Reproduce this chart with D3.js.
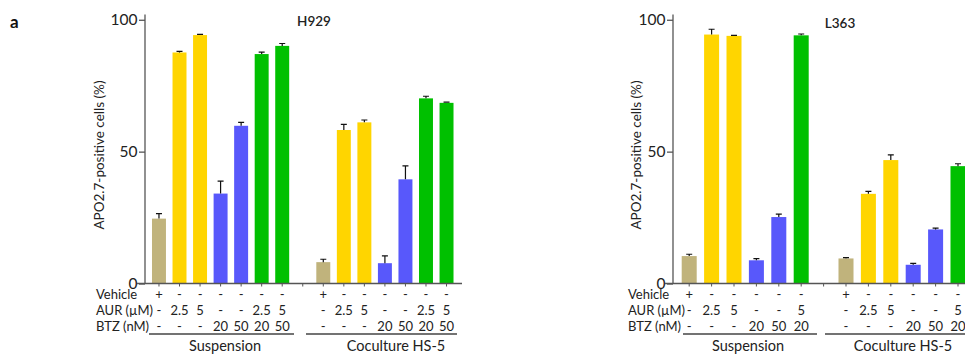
<!DOCTYPE html>
<html><head><meta charset="utf-8">
<script src="https://cdn.jsdelivr.net/npm/d3@7"></script>
<style>
html,body{margin:0;padding:0;background:#fff;}
svg{display:block;font-family:Lato,"Open Sans",sans-serif;}
</style></head>
<body><svg id="c" width="965" height="354"></svg>
<script>
// ---------- data ----------
const rowNames = ["Vehicle", "AUR (\u00b5M)", "BTZ (nM)"];
const groupNames = ["Suspension", "Coculture HS-5"];
const yTicks = [0, 50, 100];

// H929 panel
const h929Vehicle = ["+", "-", "-", "-", "-", "-", "-"];
const h929AUR     = ["-", "2.5", "5", "-", "-", "2.5", "5"];
const h929BTZ     = ["-", "-", "-", "20", "50", "20", "50"];
const h929Treat   = ["veh", "aur", "aur", "btz", "btz", "combo", "combo"];
const h929Susp    = [24.6, 87.6, 94.2, 34.1, 59.8, 87.0, 90.1];
const h929SuspErr = [1.9, 0.4, 0.3, 4.7, 1.3, 0.7, 0.9];
const h929Cocu    = [8.1, 58.2, 61.1, 7.7, 39.5, 70.2, 68.5];
const h929CocuErr = [1.1, 2.1, 0.9, 2.8, 5.1, 0.8, 0.3];

// L363 panel
const l363Vehicle = ["+", "-", "-", "-", "-", "-"];
const l363AUR     = ["-", "2.5", "5", "-", "-", "5"];
const l363BTZ     = ["-", "-", "-", "20", "50", "20"];
const l363Treat   = ["veh", "aur", "aur", "btz", "btz", "combo"];
const l363Susp    = [10.4, 94.4, 93.9, 8.8, 25.2, 94.1];
const l363SuspErr = [0.7, 2.0, 0.2, 0.6, 1.1, 0.5];
const l363Cocu    = [9.5, 34.0, 46.8, 7.1, 20.5, 44.5];
const l363CocuErr = [0.3, 0.9, 2.0, 0.5, 0.5, 0.9];

const treatColor = {veh: "#c0b37c", aur: "#ffd500", btz: "#5858fb", combo: "#00c000"};

const svg = d3.select("#c");
const axisColor = "#555";

svg.append("text").attr("x", 10).attr("y", 28).attr("font-size", 17)
  .attr("font-weight", "bold").attr("fill", "#111").text("a");

function panel(o) {
  const g = svg.append("g");
  const n = o.vehicle.length;
  const slots = d3.range(2 * n + 1);
  const x = d3.scaleBand().domain(slots).range([o.x0, o.x1]).paddingInner(o.pad).paddingOuter(o.pad / 2);
  const y = d3.scaleLinear().domain([0, 102]).range([283.5, 14.5]);

  const bars = [];
  for (let i = 0; i < n; i++) {
    bars.push({slot: i, v: o.susp[i], e: o.suspErr[i], t: o.treat[i], k: i});
    bars.push({slot: n + 1 + i, v: o.cocu[i], e: o.cocuErr[i], t: o.treat[i], k: i});
  }

  // bars
  g.selectAll("rect.bar").data(bars).join("rect")
    .attr("x", d => x(d.slot)).attr("width", x.bandwidth())
    .attr("y", d => y(d.v)).attr("height", d => y(0) - y(d.v))
    .attr("fill", d => treatColor[d.t]);

  // error bars
  const cap = 3;
  g.selectAll("path.err").data(bars).join("path")
    .attr("d", d => {
      const cx = x(d.slot) + x.bandwidth() / 2;
      return `M${cx},${y(d.v)}V${y(d.v + d.e)}M${cx - cap},${y(d.v + d.e)}H${cx + cap}`;
    })
    .attr("stroke", "#111").attr("stroke-width", 1.2).attr("fill", "none");

  // y axis
  const ya = g.append("g").attr("transform", `translate(${o.ax},0)`)
    .call(d3.axisLeft(y).tickValues(yTicks).tickSize(6).tickPadding(1.5));
  ya.select(".domain").attr("d", `M-0,${y(102)}V${y(0)}`);
  ya.selectAll("path,line").attr("stroke", axisColor).attr("stroke-width", 1.3);
  ya.selectAll("text").attr("font-size", 15.5).attr("fill", "#222").attr("font-family", "Lato");

  // x axis
  g.append("line").attr("x1", o.ax - 8).attr("x2", o.xEnd)
    .attr("y1", y(0)).attr("y2", y(0)).attr("stroke", axisColor).attr("stroke-width", 1.4);
  g.selectAll("line.xt").data(slots).join("line")
    .attr("x1", d => x(d) + x.bandwidth() / 2).attr("x2", d => x(d) + x.bandwidth() / 2)
    .attr("y1", y(0)).attr("y2", y(0) + 3).attr("stroke", axisColor).attr("stroke-width", 1);

  // y title
  g.append("text").attr("transform", `translate(${o.ytx},155) rotate(-90)`)
    .attr("text-anchor", "middle").attr("dominant-baseline", "middle")
    .attr("font-size", 13.5).attr("fill", "#222").text("APO2.7-positive cells (%)");

  // panel title
  g.append("text").attr("x", o.titleX).attr("y", o.titleY).attr("text-anchor", "middle")
    .attr("font-size", 13.5).attr("font-weight", 600).attr("fill", "#222").text(o.title);

  // condition rows
  const rows = [o.vehicle, o.aur, o.btz];
  const rowY = [298.5, 314.5, 330.5];
  rows.forEach((arr, r) => {
    g.append("text").attr("x", o.rowX).attr("y", rowY[r]).attr("font-size", 13)
      .attr("fill", "#222").text(rowNames[r]);
    const cells = [];
    arr.forEach((s, i) => { cells.push({slot: i, s}); cells.push({slot: n + 1 + i, s}); });
    g.selectAll(null).data(cells).join("text")
      .attr("x", d => x(d.slot) + x.bandwidth() / 2).attr("y", rowY[r])
      .attr("text-anchor", "middle").attr("font-size", 13).attr("fill", "#222")
      .text(d => d.s);
  });

  // group underlines and labels
  o.lines.forEach((ln, i) => {
    g.append("line").attr("x1", ln[0]).attr("x2", ln[1]).attr("y1", 334).attr("y2", 334)
      .attr("stroke", "#444").attr("stroke-width", 1.4);
    g.append("text").attr("x", o.labelX[i]).attr("y", 351).attr("text-anchor", "middle")
      .attr("font-size", 14.5).attr("fill", "#222").text(groupNames[i]);
  });
}

panel({
  title: "H929", titleX: 314, titleY: 25.5,
  vehicle: h929Vehicle, aur: h929AUR, btz: h929BTZ, treat: h929Treat,
  susp: h929Susp, suspErr: h929SuspErr, cocu: h929Cocu, cocuErr: h929CocuErr,
  x0: 148.7, x1: 456.8, pad: 0.32, ax: 145, xEnd: 462, ytx: 101, rowX: 96,
  lines: [[149, 294], [306, 457]], labelX: [225, 396]
});

panel({
  title: "L363", titleX: 840, titleY: 27.5,
  vehicle: l363Vehicle, aur: l363AUR, btz: l363BTZ, treat: l363Treat,
  susp: l363Susp, suspErr: l363SuspErr, cocu: l363Cocu, cocuErr: l363CocuErr,
  x0: 678, x1: 969.2, pad: 0.33, ax: 673, xEnd: 975, ytx: 638, rowX: 628,
  lines: [[683, 817], [825, 975]], labelX: [748, 903]
});
</script></body></html>
